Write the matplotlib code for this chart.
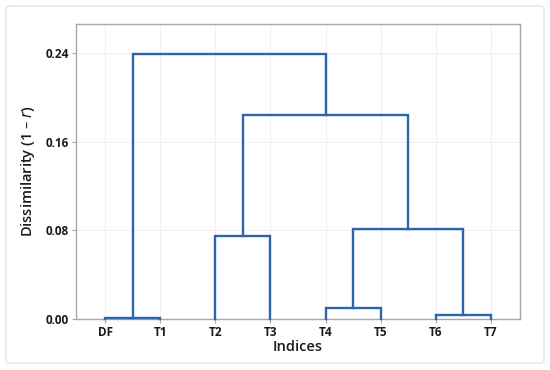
import matplotlib
matplotlib.use("Agg")
import matplotlib.pyplot as plt
from matplotlib.patches import FancyBboxPatch

plt.rcParams['font.family'] = ['Open Sans', 'DejaVu Sans']

leaves = ["DF", "T1", "T2", "T3", "T4", "T5", "T6", "T7"]
# merges: (left cluster, right cluster, height); clusters named by leaf or earlier merge index
merge_left = ["DF", "T2", "T4", "T6", 2, 1, 0]
merge_right = ["T1", "T3", "T5", "T7", 3, 4, 5]
merge_height = [0.0005, 0.0746, 0.0102, 0.0036, 0.0812, 0.1840, 0.2390]
yticks = [0.00, 0.08, 0.16, 0.24]

line_color = "#2C65AD"

fig = plt.figure(figsize=(5.5, 3.7), dpi=100)
# outer frame
frame = FancyBboxPatch((6 / 550, 7 / 370), 538 / 550, 357 / 370,
                       boxstyle="round,pad=0,rounding_size=0.006",
                       transform=fig.transFigure, facecolor="white",
                       edgecolor="#E4E4E4", linewidth=1.0, zorder=-5)
fig.patches.append(frame)

ax = fig.add_axes([76 / 550, 1 - 319 / 370, 444 / 550, 295 / 370])
ax.set_zorder(2)
ax.patch.set_alpha(0)

xpos = {name: i + 1 for i, name in enumerate(leaves)}
ypos = {name: 0.0 for name in leaves}
for i, (a, b, h) in enumerate(zip(merge_left, merge_right, merge_height)):
    xa, xb = xpos[a], xpos[b]
    ya, yb = ypos[a], ypos[b]
    ax.plot([xa, xa, xb, xb], [ya, h, h, yb], color=line_color, lw=1.7,
            solid_joinstyle="miter", zorder=3, clip_on=False)
    xpos[i] = (xa + xb) / 2
    ypos[i] = h

ax.set_xlim(0.47, 8.53)
ax.set_ylim(0, 0.266)
ax.set_xticks(range(1, len(leaves) + 1))
ax.set_xticklabels(leaves)
ax.set_yticks(yticks)
ax.set_yticklabels([f"{v:.2f}" for v in yticks])
ax.grid(True, color="#F0F0F0", lw=0.8, zorder=0)
ax.set_axisbelow(True)
for s in ax.spines.values():
    s.set_color("#A8A8A8")
    s.set_linewidth(1.0)
ax.tick_params(axis="both", length=3, color="#A8A8A8", labelsize=8.5,
               labelcolor="#1A1A1A", pad=2)
for lab in ax.get_xticklabels() + ax.get_yticklabels():
    lab.set_fontweight("bold")

ax.set_xlabel("Indices", fontsize=10.5, fontweight="semibold", color="#1A1A1A", labelpad=1)
ax.set_ylabel(r"Dissimilarity (1 – $\it{r}$)", fontsize=10.5, fontweight="semibold",
              color="#1A1A1A", labelpad=6)

fig.savefig("out.png", dpi=100)
